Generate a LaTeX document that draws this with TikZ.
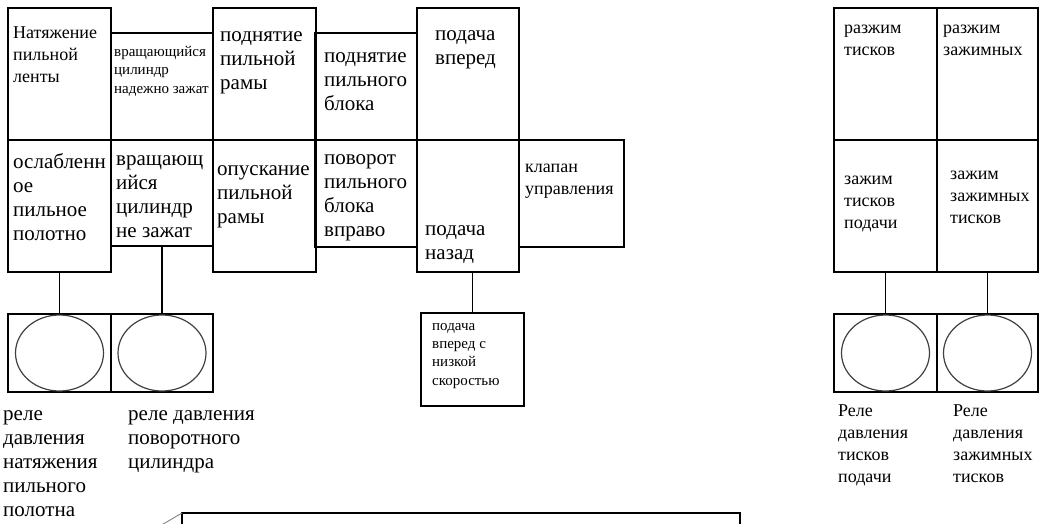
\documentclass[tikz,border=0pt]{standalone}
\usepackage{fontspec}
\setmainfont{Liberation Serif}
\usepackage{tikz}
\usetikzlibrary{shapes.geometric}
\tikzset{
  cell/.style={draw,line width=1.3pt,anchor=north west,inner sep=0pt,outer sep=0pt},
  relay/.style={ellipse,draw=black!75,line width=1.2pt,minimum width=88pt,minimum height=76pt,inner sep=0pt},
  txtL/.style={anchor=base west,align=left,inner sep=0pt,font=\fontsize{21}{24}\selectfont},
  txtM/.style={anchor=base west,align=left,inner sep=0pt,font=\fontsize{18}{21.7}\selectfont},
  txtS/.style={anchor=base west,align=left,inner sep=0pt,font=\fontsize{15}{18.3}\selectfont},
  link/.style={line width=1.3pt},
}
\begin{document}
\begin{tikzpicture}[x=1pt,y=-1pt]
\useasboundingbox (0,0) rectangle (1039,523);
\clip (0,0) rectangle (1039,523);
% valve cells, upper row
\foreach \n/\x/\y/\w/\h in {a1/8/8/103/132, a2/111/33/102/107, a3/213/8/103/132, a4/315/33/102/107, a5/417/8/102/132}
  \node[cell,minimum width=\w pt,minimum height=\h pt] (\n) at (\x,\y) {};
% valve cells, lower row
\foreach \n/\x/\y/\w/\h in {b1/8/140/103/132, b2/111/140/102/106, b3/213/140/103/132, b4/315/140/102/107, b5/417/140/102/132, b6/519/140/105/107}
  \node[cell,minimum width=\w pt,minimum height=\h pt] (\n) at (\x,\y) {};
% vice valve on the right
\foreach \n/\x/\y/\w/\h in {c1/834/8/103/132, c2/937/8/101/132, d1/834/140/103/132, d2/937/140/101/132}
  \node[cell,minimum width=\w pt,minimum height=\h pt] (\n) at (\x,\y) {};
% pressure relays
\foreach \n/\x/\y/\w/\h in {r1/8/314/103/78, r2/111/314/102/78, r3/834/314/103/78, r4/937/314/101/78}{
  \node[cell,minimum width=\w pt,minimum height=\h pt] (\n) at (\x,\y) {};
  \node[relay] (\n o) at (\n) {};}
\node[cell,minimum width=103pt,minimum height=93pt] (slow) at (421,313) {};
% labels in the cells (placed at the last baseline)
\node[txtM] (ta1) at (13,82) {Натяжение\\пильной\\ленты};
\node[txtS] (ta2) at (114,93) {вращающийся\\цилиндр\\надежно зажат};
\node[txtL] (ta3) at (220,89) {поднятие\\пильной\\рамы};
\node[txtL] (ta4) at (324,110) {поднятие\\пильного\\блока};
\node[txtL] (ta5) at (435,64) {подача\\вперед};
\node[txtL] (tb1) at (13,240) {ослабленн\\ое\\пильное\\полотно};
\node[txtL] (tb2) at (116,237) {вращающ\\ийся\\цилиндр\\не зажат};
\node[txtL] (tb3) at (217,223) {опускание\\пильной\\рамы};
\node[txtL] (tb4) at (324,236) {поворот\\пильного\\блока\\вправо};
\node[txtL] (tb5) at (425,259) {подача\\назад};
\node[txtM] (tb6) at (525,194) {клапан\\управления};
\node[txtM] (tc1) at (844,55) {разжим\\тисков};
\node[txtM] (tc2) at (943,55) {разжим\\зажимных};
\node[txtM] (td1) at (844,228) {зажим\\тисков\\подачи};
\node[txtM] (td2) at (950,223) {зажим\\зажимных\\тисков};
\node[txtS] (tslow) at (432,385) {подача\\вперед с\\низкой\\скоростью};
% relay captions
\node[txtL] (tr1) at (3,516) {реле\\давления\\натяжения\\пильного\\полотна};
\node[txtL] (tr2) at (128,468) {реле давления\\поворотного\\цилиндра};
\node[txtM] (tr3) at (838,482) {Реле\\давления\\тисков\\подачи};
\node[txtM] (tr4) at (953,482) {Реле\\давления\\зажимных\\тисков};
% links
\draw[link] (b1.south) -- (r1.north);
\draw[link] (b2.south) -- (r2.north);
\draw[link] (slow.north |- b5.south) -- (slow.north);
\draw[link] (d1.south) -- (r3.north);
\draw[link] (d2.south) -- (r4.north);
% cut-off note at the bottom
\node[cell,minimum width=558pt,minimum height=60pt] (note) at (182,513) {};
\coordinate (tail) at (148,533);
\draw[black!45,line width=1pt] (note.north west) -- (tail);
\end{tikzpicture}
\end{document}
